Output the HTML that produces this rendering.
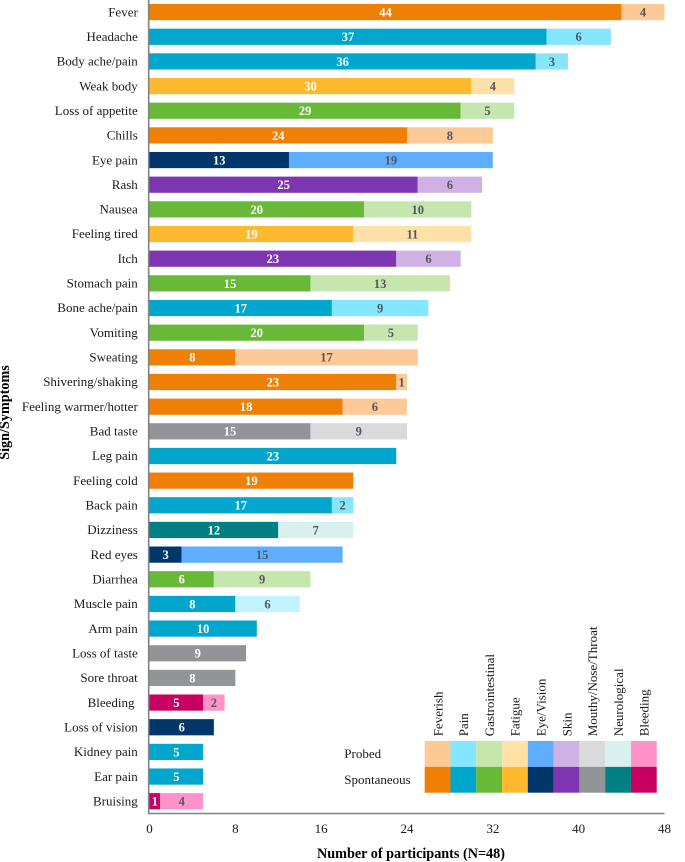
<!DOCTYPE html>
<html>
<head>
<meta charset="utf-8">
<style>
html,body{margin:0;padding:0;background:#fff;}
svg{display:block;font-family:"Liberation Serif",serif;}
svg text{white-space:pre;}
</style>
</head>
<body>
<svg id="chart" width="685" height="862" viewBox="0 0 685 862" xmlns="http://www.w3.org/2000/svg"></svg>
<script>
const symptoms = ["Fever","Headache","Body ache/pain","Weak body","Loss of appetite","Chills","Eye pain","Rash","Nausea","Feeling tired","Itch","Stomach pain","Bone ache/pain","Vomiting","Sweating","Shivering/shaking","Feeling warmer/hotter","Bad taste","Leg pain","Feeling cold","Back pain","Dizziness","Red eyes","Diarrhea","Muscle pain","Arm pain","Loss of taste","Sore throat","Bleeding ","Loss of vision","Kidney pain","Ear pain","Bruising"];
const spontaneous = [44,37,36,30,29,24,13,25,20,19,23,15,17,20,8,23,18,15,23,19,17,12,3,6,8,10,9,8,5,6,5,5,1];
const probed = [4,6,3,4,5,8,19,6,10,11,6,13,9,5,17,1,6,9,0,0,2,7,15,9,6,0,0,0,2,0,0,0,4];
const groups = ["Feverish","Pain","Gastrointestinal","Fatigue","Eye/Vision","Skin","Mouthy/Nose/Throat","Neurological","Bleeding"];
const symptomGroups = [0,1,1,3,2,0,4,5,2,3,5,2,1,2,0,0,0,6,1,0,1,7,4,2,1,1,6,6,8,4,1,1,8];
const spontaneousColors = ["#f07f06","#00a6cc","#69b939","#ffb92e","#00376b","#7e35b2","#929497","#008083","#c70062"];
const probedColors = ["#fdc996","#85e6ff","#c5e6ac","#ffe1a8","#5eadff","#cfb1e6","#d9dadb","#d8f1ee","#ff92c9"];
const xTicks = [0,8,16,24,32,40,48];
const rowLabels = ["Probed","Spontaneous"];

const svg = document.getElementById('chart');
const NS = 'http://www.w3.org/2000/svg';
const plot = {left:149.5, right:664.5, top:4, pitch:24.66, barH:16.2, xMax:48, axisY:813.5};
const xScale = v => plot.left + v * (plot.right - plot.left) / plot.xMax;
const yScale = i => plot.top + i * plot.pitch;

function make(tag, attrs, text) {
  const el = document.createElementNS(NS, tag);
  for (const k in attrs) el.setAttribute(k, attrs[k]);
  if (text !== undefined) el.textContent = text;
  svg.appendChild(el);
  return el;
}

symptoms.forEach((name, i) => {
  const y = yScale(i);
  const group = symptomGroups[i];
  const label = make('text', {x:137.8, y:y+12.3, 'text-anchor':'end', 'font-size':13, fill:'#1a1a1a'}, name);
  
  

  const s = spontaneous[i], p = probed[i];
  const bar = make('rect', {x:xScale(0), y:y, width:xScale(s)-xScale(0), height:plot.barH, fill:spontaneousColors[group]});
  
  
  const val = make('text', {x:xScale(s/2), y:y+12.5, 'text-anchor':'middle', 'font-size':12.5, 'font-weight':'bold', fill:'#fff'}, s);
  
  

  if (p > 0) {
    const fillColor = name === "Muscle pain" ? "#c0f2ff" : probedColors[group];
    const bar2 = make('rect', {x:xScale(s), y:y, width:xScale(s+p)-xScale(s), height:plot.barH, fill:fillColor});
    
    
    const val2 = make('text', {x:xScale(s+p/2), y:y+12.5, 'text-anchor':'middle', 'font-size':12.5, 'font-weight':'bold', fill:'#55555f'}, p);
    
    
  }
});

const yAxis = make('line', {x1:148.7, y1:0, x2:148.7, y2:plot.axisY+0.8, stroke:'#808285', 'stroke-width':1.6});


const xAxis = make('line', {x1:148, y1:plot.axisY, x2:664.5, y2:plot.axisY, stroke:'#808285', 'stroke-width':1.4});



xTicks.forEach(t => {
  const tick = make('text', {x:xScale(t), y:832.8, 'text-anchor':'middle', 'font-size':13, fill:'#1a1a1a'}, t);
  
  
});

const xTitle = make('text', {x:411, y:858, 'text-anchor':'middle', 'font-size':14.2, 'font-weight':'bold', fill:'#000'}, 'Number of participants (N=48)');


const yTitle = make('text', {x:0, y:0, transform:'translate(9,412.5) rotate(-90)', 'text-anchor':'middle', 'font-size':14.2, 'font-weight':'bold', fill:'#000'}, 'Sign/Symptoms');



const legend = {left:424.7, cell:25.78, top:741, rowH:25.85};
groups.forEach((g, i) => {
  const x = legend.left + i * legend.cell;
  const c1 = make('rect', {x:x, y:legend.top, width:legend.cell, height:legend.rowH, fill:probedColors[i]});
  
  
  const c2 = make('rect', {x:x, y:legend.top+legend.rowH, width:legend.cell, height:legend.rowH, fill:spontaneousColors[i]});
  
  
  const lx = x + legend.cell/2 + 4.8;
  const t = make('text', {x:0, y:0, transform:'translate('+lx+',736.3) rotate(-90)', 'font-size':13, fill:'#1a1a1a'}, g);
  
  
});
rowLabels.forEach((r, i) => {
  const t = make('text', {x:344.3, y:legend.top+17.2+i*legend.rowH, 'font-size':13, fill:'#1a1a1a'}, r);
  
  
});
</script>
</body>
</html>
